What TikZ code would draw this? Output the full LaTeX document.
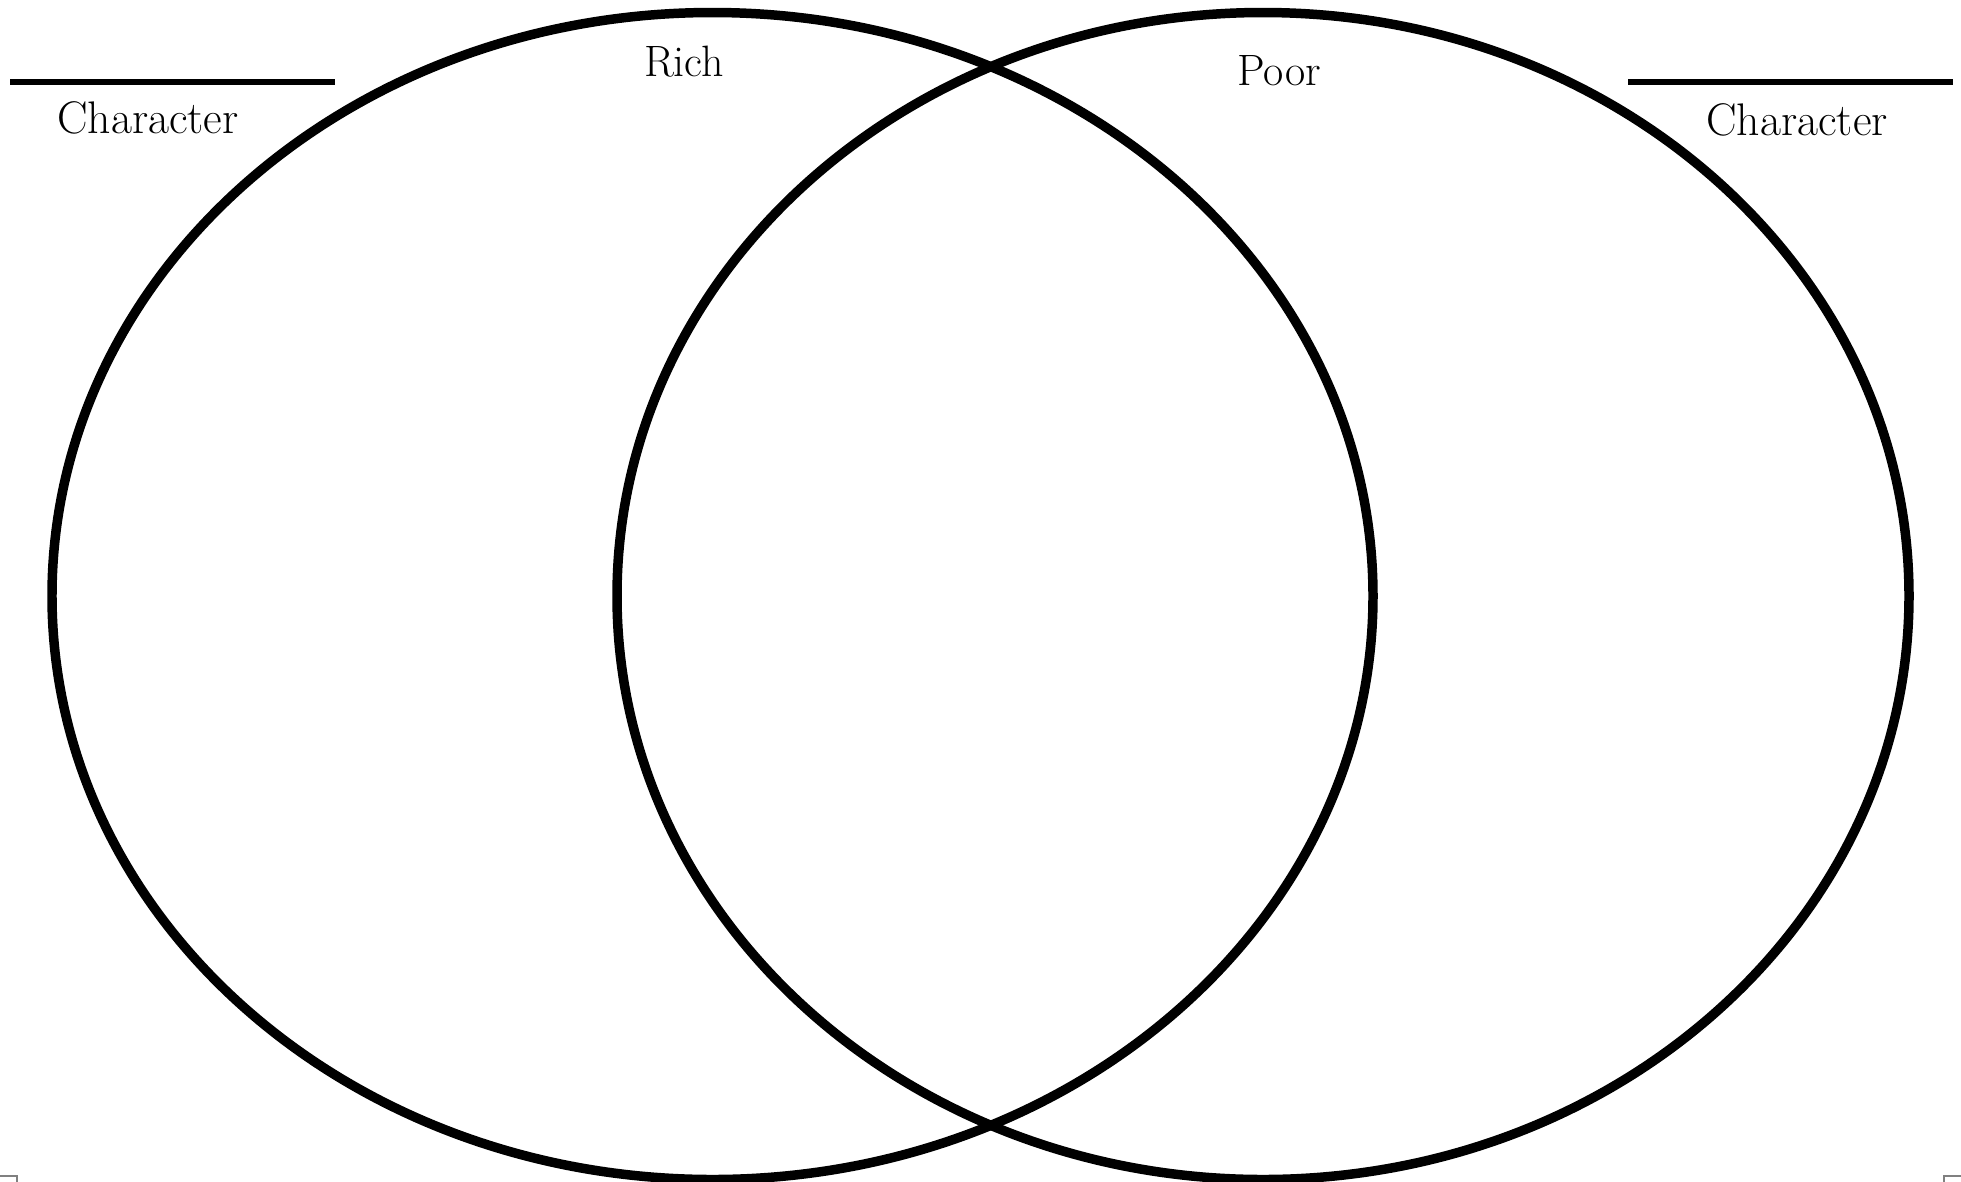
\documentclass[tikz,border=0pt]{standalone}
\usepackage{tikz}
\usepackage{xcolor}
\usetikzlibrary{positioning}

\begin{document}
\begin{tikzpicture}[
  x=0.02cm, y=-0.02cm,
  ring/.style={draw=black, line width=5.4pt},
  blank/.style={draw=black, line width=3.4pt},
  label/.style={inner sep=0pt, anchor=base, font=\fontsize{26}{30}\selectfont},
  setlabel/.style={inner sep=0pt, anchor=base, font=\fontsize{25}{30}\selectfont}
]
\useasboundingbox (0,0) rectangle (1961,1181);

% the two sets
\draw[ring] (712.5,596) ellipse [x radius=660.5, y radius=583.5];
\draw[ring] (1263,596) ellipse [x radius=646, y radius=583.5];

% set names
\node[setlabel] (rich) at (684,76) {Rich};
\node[setlabel] (poor) at (1279,85) {Poor};

% blanks for the characters
\coordinate (leftA) at (10,82);
\coordinate (leftB) at (335,82);
\coordinate (rightA) at (1628,82);
\coordinate (rightB) at (1953,82);
\draw[blank] (leftA) -- (leftB);
\draw[blank] (rightA) -- (rightB);
\node[label] (charleft) at (148,133) {Character};
\node[label] (charright) at (1797,135) {Character};

% cut-off boxes at the page foot
\draw[gray, line width=0.6pt] (-20,1176) rectangle (17,1220);
\draw[gray, line width=0.6pt] (1944,1176) rectangle (1990,1220);
\end{tikzpicture}
\end{document}
